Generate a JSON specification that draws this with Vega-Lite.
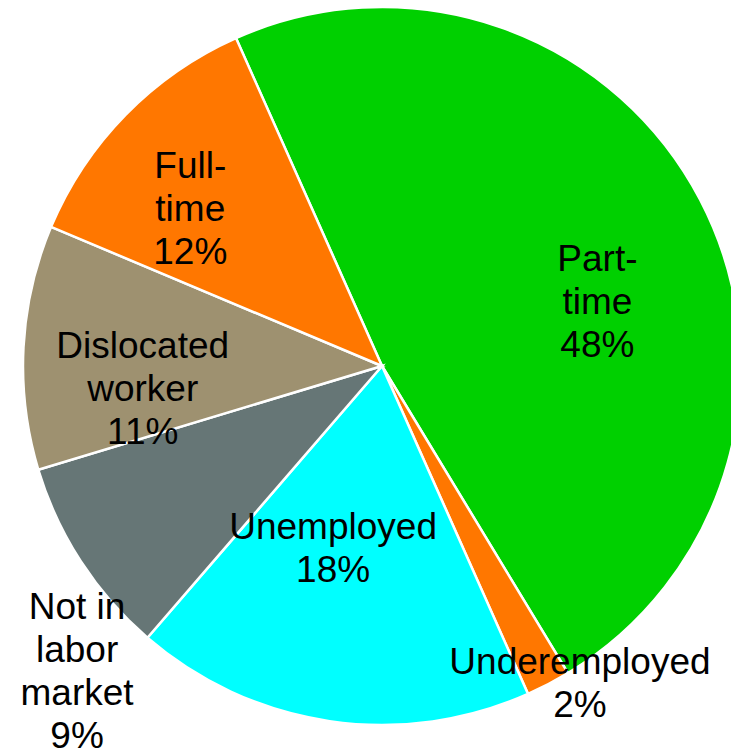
{
  "$schema": "https://vega.github.io/schema/vega-lite/v6.json",
  "width": 698,
  "height": 732,
  "autosize": "none",
  "padding": {"left": 33, "top": 0, "right": 0, "bottom": 23},
  "background": "white",
  "config": {"view": {"stroke": null}, "text": {"font": "Liberation Sans", "fontSize": 37, "lineHeight": 43, "lineBreak": "\n", "color": "black", "align": "center", "baseline": "middle"}},
  "data": {
    "values": [
      {"idx": 1, "category": "Part-time", "value": 48, "label": "Part-\ntime\n48%"},
      {"idx": 2, "category": "Underemployed", "value": 2, "label": "Underemployed\n2%"},
      {"idx": 3, "category": "Unemployed", "value": 18, "label": "Unemployed\n18%"},
      {"idx": 4, "category": "Not in labor market", "value": 9, "label": "Not in\nlabor\nmarket\n9%"},
      {"idx": 5, "category": "Dislocated worker", "value": 11, "label": "Dislocated\nworker\n11%"},
      {"idx": 6, "category": "Full-time", "value": 12, "label": "Full-\ntime\n12%"}
    ]
  },
  "encoding": {
    "theta": {"field": "value", "type": "quantitative", "stack": true, "scale": {"range": [-0.41888, 5.86431]}},
    "order": {"field": "idx", "type": "quantitative"}
  },
  "layer": [
    {
      "mark": {"type": "arc", "outerRadius": 359, "stroke": "white", "strokeWidth": 2.5},
      "encoding": {
        "color": {
          "field": "category", "type": "nominal", "legend": null,
          "scale": {
            "domain": ["Part-time", "Underemployed", "Unemployed", "Not in labor market", "Dislocated worker", "Full-time"],
            "range": ["#00D000", "#FF7700", "#00FFFF", "#667676", "#9E9170", "#FF7700"]
          }
        }
      }
    },
    {
      "mark": {"type": "text", "radius": 240, "thetaOffset": 0.025},
      "encoding": {"text": {"condition": {"test": "datum.category === 'Part-time' || datum.category === 'Dislocated worker'", "field": "label"}, "value": ""}}
    },
    {
      "mark": {"type": "text", "radius": 276, "thetaOffset": 0.028},
      "encoding": {"text": {"condition": {"test": "datum.category === 'Full-time'", "field": "label"}, "value": ""}}
    },
    {
      "mark": {"type": "text", "radius": 169, "thetaOffset": 0.147},
      "encoding": {"text": {"condition": {"test": "datum.category === 'Unemployed'", "field": "label"}, "value": ""}}
    },
    {
      "mark": {"type": "text", "radius": 389, "thetaOffset": -0.094},
      "encoding": {"text": {"condition": {"test": "datum.category === 'Not in labor market'", "field": "label"}, "value": ""}}
    },
    {
      "mark": {"type": "text", "radius": 357, "thetaOffset": -0.106},
      "encoding": {"text": {"condition": {"test": "datum.category === 'Underemployed'", "field": "label"}, "value": ""}}
    }
  ]
}
